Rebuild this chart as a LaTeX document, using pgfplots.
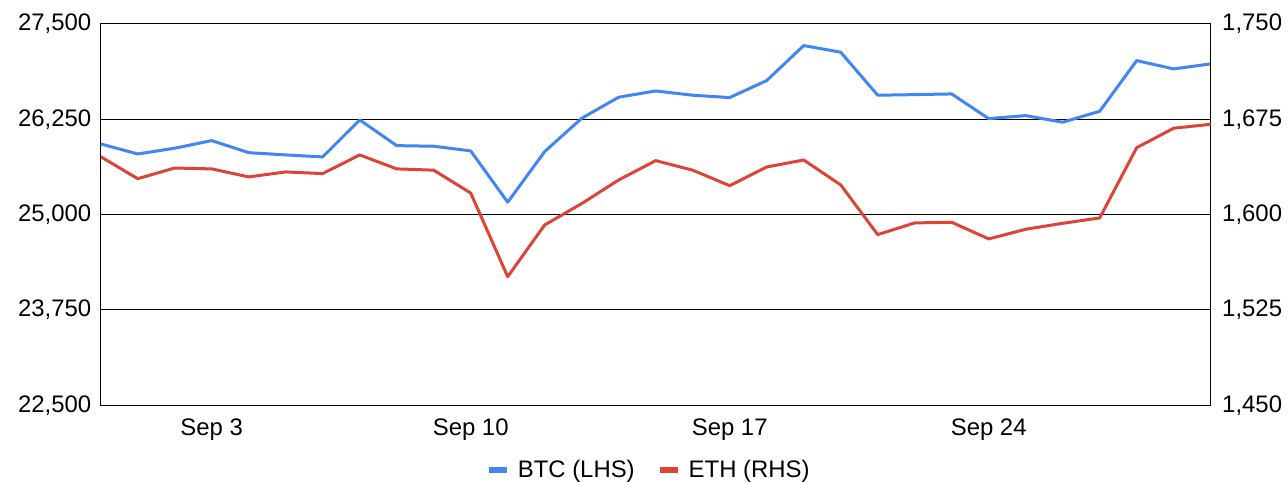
\documentclass[border=0pt]{standalone}
\usepackage{pgfplots}
\pgfplotsset{compat=1.18}
\usepackage{fontspec}
\setmainfont{Liberation Sans}
\definecolor{btc}{HTML}{4285F4}
\definecolor{eth}{HTML}{DB4437}
\pgfplotstableread{
x btc eth
0 25927 1645.6
1 25796 1628.3
2 25871 1636.7
3 25971 1636.0
4 25813 1629.7
5 25783 1633.6
6 25757 1632.3
7 26242 1647.0
8 25905 1636.0
9 25897 1635.0
10 25836 1617.0
11 25163 1551.2
12 25827 1591.9
13 26264 1608.7
14 26540 1627.3
15 26622 1642.5
16 26566 1635.0
17 26535 1622.8
18 26758 1637.5
19 27217 1643.0
20 27130 1623.4
21 26566 1584.3
22 26574 1593.5
23 26583 1594.0
24 26259 1580.9
25 26299 1588.5
26 26212 1593.2
27 26356 1597.4
28 27020 1652.7
29 26911 1668.0
30 26977 1671.1
}\datatable
\begin{document}
\begin{tikzpicture}
\path[use as bounding box] (-100.7bp,-76.7bp) rectangle (1187.3bp,405.3bp);
\begin{axis}[
 scale only axis, width=1110bp, height=381.3bp,
 xmin=0, xmax=30, ymin=22500, ymax=27500,
 ytick={22500,23750,25000,26250,27500},
 xtick={3,10,17,24}, xticklabels={Sep 3,Sep 10,Sep 17,Sep 24},
 major tick length=0pt,
 ymajorgrids, grid style={black, line width=1bp},
 axis line style={black, line width=1bp},
 tick label style={font=\fontsize{24}{28}\selectfont},
 yticklabel style={xshift=-6bp},
 xticklabel style={yshift=-10bp},
 scaled y ticks=false,
 /pgf/number format/1000 sep={,},
 /pgf/number format/assume math mode=true,
]
\addplot[btc, line width=3bp, line join=round, no markers] table[x=x, y=btc] {\datatable};
\end{axis}
\begin{axis}[
 scale only axis, width=1110bp, height=381.3bp,
 xmin=0, xmax=30, ymin=1450, ymax=1750,
 ytick={1450,1525,1600,1675,1750},
 axis x line=none, axis y line*=right,
 major tick length=0pt,
 axis line style={black, line width=1bp},
 tick label style={font=\fontsize{24}{28}\selectfont},
 yticklabel style={xshift=8bp},
 scaled y ticks=false,
 /pgf/number format/1000 sep={,},
 /pgf/number format/assume math mode=true,
 legend style={at={(0.4937,-0.1697)}, anchor=center, draw=none, fill=none,
   font=\fontsize{24}{28}\selectfont,
   /tikz/every odd column/.append style={column sep=6bp},
   /tikz/every even column/.append style={column sep=20bp}},
 legend columns=2,
 legend image code/.code={\draw[#1, line width=6bp] (0bp,0bp) -- (18bp,0bp);},
]
\addlegendimage{btc}
\addlegendentry{BTC (LHS)}
\addplot[eth, line width=3bp, line join=round, no markers] table[x=x, y=eth] {\datatable};
\addlegendentry{ETH (RHS)}
\end{axis}
\end{tikzpicture}
\end{document}
